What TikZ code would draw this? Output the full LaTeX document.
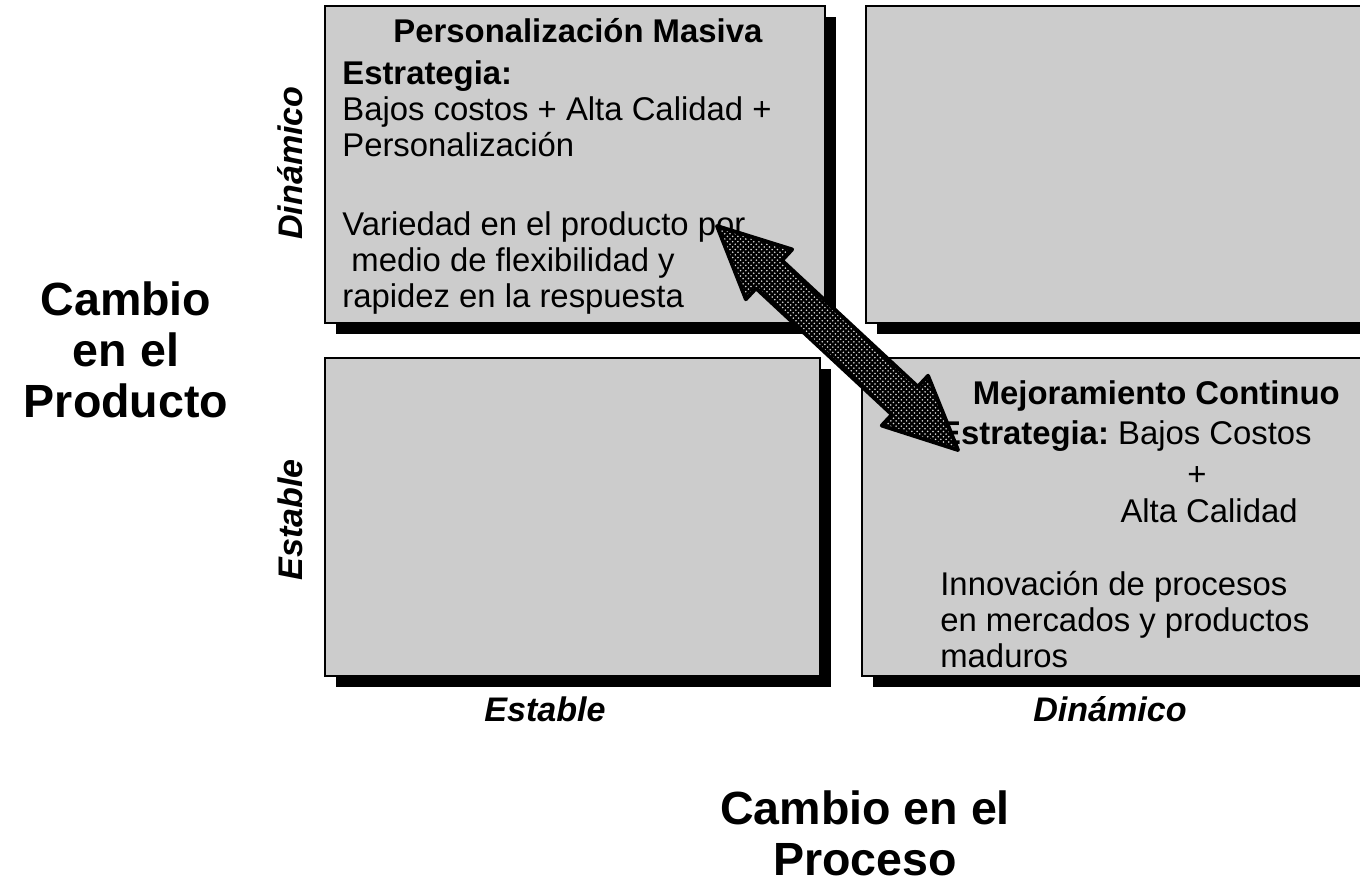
\documentclass[tikz,border=0pt]{standalone}
\usepackage{fontspec}
\setmainfont{Liberation Sans}
\frenchspacing
\usepackage{tikz}
\usetikzlibrary{positioning,calc,shadows,patterns}

\tikzset{
  quadbox/.style={rectangle, draw, line width=1.1pt, fill=black!20, inner sep=0pt,
    drop shadow={shadow xshift=0.22cm, shadow yshift=-0.22cm, fill=black, opacity=1}},
  quadtext/.style={inner sep=0pt, font=\fontsize{18.7pt}{20.5pt}\selectfont},
  axislabel/.style={inner sep=0pt, font=\fontsize{19.4pt}{22pt}\selectfont\bfseries\itshape},
  axistitle/.style={inner sep=0pt, align=center, font=\fontsize{26.5pt}{29pt}\selectfont\bfseries},
  bigarrow/.style={draw=black, line width=2.2pt, line join=round, preaction={fill=black},
    pattern=crosshatch dots, pattern color=white!85!black}
}

\begin{document}
\begin{tikzpicture}[x=0.02cm, y=-0.02cm]
  \useasboundingbox (0,0) rectangle (1360,890);

  % Quadrants
  \node[quadbox, minimum width=10cm, minimum height=6.34cm] (masiva) at (575,164.5) {};
  \node[quadbox, minimum width=10.18cm, minimum height=6.34cm] (vacio) at (1120.5,164.5) {};
  \node[quadbox, minimum width=9.9cm, minimum height=6.36cm] (estable) at (572.5,517) {};
  \node[quadbox, minimum width=10.26cm, minimum height=6.36cm] (mejora) at (1118.5,517) {};

  % Texts in the quadrants
  \node[quadtext] (masivaT) at (578,31) {\textbf{Personalización Masiva}};
  \node[quadtext, anchor=north west, align=left] (masivaB) at (342,60)
    {\textbf{Estrategia:}\\ Bajos costos + Alta Calidad +\\ Personalización\\[24.5pt]
     Variedad en el producto por\\ \ medio de flexibilidad y\\ rapidez en la respuesta};
  \node[quadtext, anchor=base east] (mejoraT) at (1340,404) {\textbf{Mejoramiento Continuo}};
  \node[quadtext, anchor=base east] (mejoraE) at (1312,444) {\textbf{Estrategia:} Bajos Costos};
  \node[quadtext, anchor=base] (mejoraP) at (1197,485) {+};
  \node[quadtext, anchor=base east] (mejoraC) at (1298,522) {Alta Calidad};
  \node[quadtext, anchor=north west, align=left] (mejoraB) at (940,571)
    {Innovación de procesos\\ en mercados y productos\\ maduros};

  % Axis labels
  \node[axislabel, rotate=90] (dinY) at (290,163) {Dinámico};
  \node[axislabel, rotate=90] (estY) at (290,520) {Estable};
  \node[axislabel] (estX) at (545,709) {Estable};
  \node[axislabel] (dinX) at (1110,709) {Dinámico};
  \node[axistitle] (producto) at (126,350) {Cambio\\ en el\\ Producto};
  \node[axistitle] (proceso) at (865,833) {Cambio en el\\ Proceso};

  % Double arrow
  \coordinate (tipA) at (717,226);
  \coordinate (tipB) at (958,450);
  \coordinate (headA) at ($(tipA)!1.42cm!(tipB)$);
  \coordinate (headB) at ($(tipB)!1.45cm!(tipA)$);
  \draw[bigarrow] (tipA) -- ($(headA)!0.68cm!90:(tipB)$) -- ($(headA)!0.38cm!90:(tipB)$)
    -- ($(headB)!0.38cm!-90:(tipA)$) -- ($(headB)!0.68cm!-90:(tipA)$) -- (tipB)
    -- ($(headB)!0.68cm!90:(tipA)$) -- ($(headB)!0.38cm!90:(tipA)$)
    -- ($(headA)!0.38cm!-90:(tipB)$) -- ($(headA)!0.68cm!-90:(tipB)$) -- cycle;

\end{tikzpicture}
\end{document}
